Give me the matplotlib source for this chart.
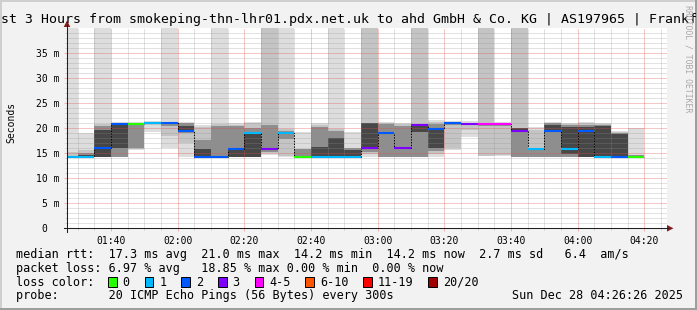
import numpy as np
import matplotlib
matplotlib.use("Agg")
import matplotlib.pyplot as plt
from matplotlib.patches import Rectangle, Polygon
from matplotlib.transforms import ScaledTranslation

nan = np.nan

# ---------------- data ----------------
graph_start_min = 86.8      # 01:26:48, left edge of the time axis
graph_end_min = 266.8       # 04:26:48, right edge
step_edges_min = [86.8, 90, 95, 100, 105, 110, 115, 120, 125, 130, 135, 140,
                  145, 150, 155, 160, 165, 170, 175, 180, 185, 190, 195, 200,
                  205, 210, 215, 220, 225, 230, 235, 240, 245, 250, 255, 260]

median_ms = [14.3, 14.3, 15.9, 20.8, 20.8, 21.0, 20.9, 19.4, 14.2, 14.2,
             15.7, 19.0, 15.7, 19.0, 14.2, 14.2, 14.2, 14.2, 15.9, 19.0,
             15.9, 20.5, 19.8, 20.9, 20.8, 20.8, 20.8, 19.4, 15.8, 19.4,
             15.8, 19.4, 14.2, 14.2, 14.2]
loss_count = [1, 1, 2, 2, 0, 1, 2, 2, 2, 2,
              2, 1, 3, 1, 0, 1, 1, 1, 3, 2,
              3, 3, 2, 2, 3, 4, 4, 3, 1, 2,
              1, 2, 1, 2, 0]

# smoke bands (outer -> inner), ms; values above 40 run off the top
smoke1_lo = [14.2, 14.2, 14.2, 14.2, 15.6, 19.2, 15.9, 14.2, 14.2, 14.2,
             14.2, 14.2, 14.7, 14.2, 14.2, 14.2, 14.2, 14.2, 14.2, 14.2,
             14.2, 14.2, 14.2, 15.6, 18.2, 14.4, 14.5, 14.2, 14.2, 14.2,
             14.2, 14.2, 14.2, 14.2, 14.2]
smoke1_hi = [60, 18.9, 60, 21.1, 21.2, 21.4, 60, 21.1, 20.5, 60,
             21.0, 21.2, 60, 60, 19.2, 21.0, 60, 19.2, 60, 21.1,
             21.0, 60, 21.5, 21.4, 21.3, 60, 21.2, 60, 20.1, 21.1,
             21.0, 21.1, 21.0, 19.4, 19.9]
smoke2_lo = [14.2, 14.2, 14.2, 14.2, 15.8, 20.6, 18.3, 17.0, 14.2, 14.2,
             14.2, 14.2, 15.0, 14.5, nan, 14.2, 14.2, nan, 14.9, 14.2,
             14.2, 14.2, 14.8, 16.0, 19.5, 14.5, 14.6, 14.2, 14.2, 14.2,
             14.2, 14.2, 14.2, 14.2, nan]
smoke2_hi = [15.2, 15.6, 20.8, 21.0, 21.0, 21.2, 21.0, 21.0, 20.2, 20.7,
             20.6, 21.0, 60, 19.8, nan, 20.6, 19.7, nan, 60, 21.0,
             20.7, 60, 21.2, 21.1, 21.0, 60, 21.0, 60, 19.5, 21.0,
             20.8, 20.9, 20.8, 19.2, nan]
smoke3_lo = [nan, 14.2, 14.2, 14.2, 15.9, nan, 20.4, 19.0, 14.2, 14.2,
             14.2, 14.2, 15.2, 17.8, 14.2, 14.2, 14.2, 14.2, 15.2, 14.2,
             14.2, 14.2, 15.3, 20.5, 20.5, 20.4, 20.4, 14.2, 14.2, 14.2,
             14.2, 14.2, 14.2, 14.2, 14.2]
smoke3_hi = [nan, 15.0, 20.3, 20.9, 20.9, nan, 21.0, 20.9, 17.6, 20.3,
             20.3, 20.0, 20.5, 19.4, 15.8, 20.2, 19.4, 15.9, 21.0, 20.8,
             20.3, 20.6, 20.8, 21.0, 21.0, 21.0, 21.0, 19.9, 15.9, 20.9,
             20.5, 20.6, 20.5, 18.9, 14.6]
smoke4_lo = [nan, 14.2, 14.3, 15.9, nan, nan, nan, 19.4, 14.2, nan,
             14.2, 14.2, 15.5, nan, nan, 14.2, 14.2, 14.2, 15.9, nan,
             nan, 19.2, 15.9, nan, nan, nan, nan, 19.3, 15.5, 19.4,
             14.9, 14.2, 14.2, 14.2, nan]
smoke4_hi = [nan, 14.7, 19.5, 20.9, nan, nan, nan, 20.4, 15.8, nan,
             15.7, 18.8, 16.0, nan, nan, 16.2, 18.0, 15.6, 20.9, nan,
             nan, 20.6, 19.8, nan, nan, nan, nan, 19.9, 15.9, 20.6,
             20.2, 20.2, 20.3, 18.8, nan]

loss_labels = ["0", "1", "2", "3", "4-5", "6-10", "11-19", "20/20"]
loss_colors = ["#26ff00", "#00b8ff", "#0059ff", "#7e00ff", "#ff00ff",
               "#ff5500", "#ff0000", "#a10000"]
loss_upper = [0, 1, 2, 3, 5, 10, 19, 20]

title_text = ("Last 3 Hours from smokeping-thn-lhr01.pdx.net.uk to ahd GmbH & Co. KG"
              " | AS197965 | Frankfurt")
line_rtt = "median rtt:  17.3 ms avg  21.0 ms max  14.2 ms min  14.2 ms now  2.7 ms sd   6.4  am/s"
line_loss = "packet loss: 6.97 % avg   18.85 % max 0.00 % min  0.00 % now"
line_probe = "probe:       20 ICMP Echo Pings (56 Bytes) every 300s"
stamp_text = "Sun Dec 28 04:26:26 2025"

# ---------------- layout ----------------
W, H = 697, 310
DPI = 100
plt.rcParams['lines.scale_dashes'] = False
MONO = "DejaVu Sans Mono"

BACK = "#f2f2f2"
SHADEA = "#cfcfcf"
SHADEB = "#9e9e9e"
GRID = (0.56, 0.56, 0.56, 0.75)
MGRID = (0.87, 0.31, 0.31, 0.60)
ARROW = (0.50, 0.12, 0.12)
AXIS = "#1f1f1f"

fig = plt.figure(figsize=(W / DPI, H / DPI), dpi=DPI, facecolor=BACK)


def fx(x):
    return x / W


def fy(y):
    return 1 - y / H


X0, X1, YB, YT = 67, 667, 228.3, 27.5
ax = fig.add_axes([fx(X0), fy(YB), (X1 - X0) / W, (YB - YT) / H])
ax.set_facecolor("white")
ax.set_xlim(graph_start_min, graph_end_min)
ax.set_ylim(0, 40)
for s in ax.spines.values():
    s.set_visible(False)

starts = np.array(step_edges_min[:-1])
widths = np.diff(step_edges_min)

shades = ["#dddddd", "#c4c4c4", "#8e8e8e", "#474747"]
for (lo, hi), c in zip([(smoke1_lo, smoke1_hi), (smoke2_lo, smoke2_hi),
                        (smoke3_lo, smoke3_hi), (smoke4_lo, smoke4_hi)], shades):
    lo = np.array(lo, float)
    hi = np.array(hi, float)
    ok = ~np.isnan(lo)
    ax.bar(starts[ok], hi[ok] - lo[ok], width=widths[ok], bottom=lo[ok],
           align="edge", color=c, linewidth=0, zorder=1)

# grid (on top of the smoke, like rrdtool)
ax.set_xticks(np.arange(100, 261, 20))
ax.set_xticks(np.arange(90, 266, 5), minor=True)
ax.set_yticks(np.arange(0, 36, 5))
ax.set_yticks(np.arange(1, 40, 1), minor=True)
ax.set_axisbelow(False)
ax.grid(which="minor", color=GRID, linewidth=0.36, linestyle=(0, (0.72, 0.72)), zorder=2)
ax.grid(which="major", color=MGRID, linewidth=0.45, linestyle=(0, (0.72, 0.72)), zorder=2)

# median line: dotted step connectors + loss-coloured segments
ax.stairs(median_ms, step_edges_min, baseline=None, color="#000000",
          linewidth=0.7, linestyle=(0, (1, 1)), zorder=3)


def loss_color(n):
    for up, c in zip(loss_upper, loss_colors):
        if n <= up:
            return c
    return loss_colors[-1]


for x0, w, m, n in zip(starts, widths, median_ms, loss_count):
    ax.hlines(m, x0, x0 + w, color=loss_color(n), linewidth=1.5, zorder=4)

# ticks
ax.set_xticklabels([f"{int(m)//60:02d}:{int(m)%60:02d}" for m in np.arange(100, 261, 20)],
                   family=MONO, fontsize=7)
ylabels = ["0"] + [f"{v} m" for v in range(5, 40, 5)]
ax.set_yticklabels(ylabels, family=MONO, fontsize=7)
ax.tick_params(axis="x", which="major", length=2.2, width=0.45, color=MGRID, pad=3.0)
ax.tick_params(axis="x", which="minor", length=1.5, width=0.36, color=GRID)
ax.tick_params(axis="y", which="major", length=2.2, width=0.45, color=MGRID, pad=3.3)
ax.tick_params(axis="y", which="minor", length=1.5, width=0.36, color=GRID)
# "0" sits in the digit column, not right-aligned with the unit
for lab in ax.get_yticklabels():
    if lab.get_text() == "0":
        lab.set_transform(lab.get_transform() + ScaledTranslation(-12.2 / DPI, 0, fig.dpi_scale_trans))

# axes lines with arrows (figure pixel coordinates)
fig.add_artist(plt.Line2D([fx(63.5), fx(668)], [fy(YB), fy(YB)], color=AXIS, linewidth=0.75))
fig.add_artist(plt.Line2D([fx(X0), fx(X0)], [fy(231.5), fy(25)], color=AXIS, linewidth=0.75))
fig.add_artist(Polygon([(fx(667), fy(YB - 3.3)), (fx(673.5), fy(YB)), (fx(667), fy(YB + 3.3))],
                       closed=True, color=ARROW, linewidth=0))
fig.add_artist(Polygon([(fx(X0 - 3.3), fy(27)), (fx(X0), fy(20.5)), (fx(X0 + 3.3), fy(27))],
                       closed=True, color=ARROW, linewidth=0))

# frame
fig.add_artist(Rectangle((0, fy(2)), 1, 2 / H, color=SHADEA, linewidth=0))
fig.add_artist(Rectangle((0, 0), 2 / W, 1, color=SHADEA, linewidth=0))
fig.add_artist(Rectangle((0, 0), 1, 2 / H, color=SHADEB, linewidth=0))
fig.add_artist(Rectangle((fx(695), 0), 2 / W, 1, color=SHADEB, linewidth=0))

# texts
fig.text(fx(-15.2), fy(23.3), title_text, family=MONO, fontsize=9.5, ha="left", va="baseline")
fig.text(fx(11), fy(122), "Seconds", family=MONO, fontsize=7, rotation=90, ha="center", va="center")
fig.text(fx(688), fy(59), "RRDTOOL / TOBI OETIKER", family=MONO, fontsize=5.9, rotation=270,
         ha="center", va="center", color="#a8a8a8")

LX = 15.5
LFS = 8.5
fig.text(fx(LX), fy(258.3), line_rtt, family=MONO, fontsize=LFS, ha="left", va="baseline")
fig.text(fx(LX), fy(271.8), line_loss, family=MONO, fontsize=LFS, ha="left", va="baseline")
fig.text(fx(LX), fy(285.5), "loss color:", family=MONO, fontsize=LFS, ha="left", va="baseline")
fig.text(fx(LX), fy(299.0), line_probe, family=MONO, fontsize=LFS, ha="left", va="baseline")
fig.text(fx(683.5), fy(299.0), stamp_text, family=MONO, fontsize=LFS, ha="right", va="baseline")

char_w = 7.1
bx = 108.3
for lab, col in zip(loss_labels, loss_colors):
    fig.add_artist(Rectangle((fx(bx), fy(286.5)), 8.5 / W, 9.5 / H, facecolor=col,
                             edgecolor="black", linewidth=0.7))
    tx = bx + 14.3
    fig.text(fx(tx), fy(285.5), lab, family=MONO, fontsize=LFS, ha="left", va="baseline")
    bx = tx + len(lab) * char_w + 15.2

fig.savefig("out.png", dpi=DPI, facecolor=BACK)
